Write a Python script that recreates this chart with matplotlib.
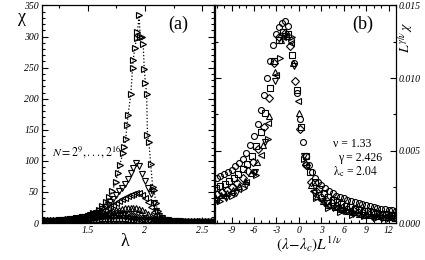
import numpy as np
import matplotlib.pyplot as plt
from matplotlib.ticker import MultipleLocator

plt.rcParams['font.family'] = ['Liberation Serif', 'DejaVu Serif']
plt.rcParams['mathtext.fontset'] = 'stix'

# ---- panel (a): chi vs lambda ----
# lambda grid of the smaller systems (1.10 ... 2.60, step 0.025)
lam = np.round(np.arange(1.10, 2.6001, 0.025), 3)

chi_o = [2.0, 2.1, 2.2, 2.3, 2.4, 2.5, 2.6, 2.7, 2.85, 3.0,
         3.1, 3.25, 3.4, 3.5, 3.65, 3.8, 3.9, 4.0, 4.1, 4.2,
         4.3, 4.4, 4.45, 4.5, 4.5, 4.5, 4.45, 4.4, 4.3, 4.2,
         4.05, 3.9, 3.75, 3.6, 3.45, 3.3, 3.15, 3.0, 2.9, 2.8,
         2.7, 2.6, 2.5, 2.42, 2.35, 2.28, 2.2, 2.14, 2.08, 2.02,
         1.96, 1.9, 1.85, 1.8, 1.75, 1.7, 1.66, 1.62, 1.58, 1.54, 1.5]
chi_s = [2.2, 2.35, 2.5, 2.65, 2.8, 3.0, 3.2, 3.4, 3.65, 3.9,
         4.15, 4.4, 4.7, 5.0, 5.3, 5.6, 5.9, 6.2, 6.5, 6.8,
         7.1, 7.4, 7.65, 7.85, 8.0, 8.1, 8.1, 8.0, 7.8, 7.5,
         7.1, 6.6, 6.1, 5.6, 5.1, 4.6, 4.2, 3.85, 3.55, 3.3,
         3.1, 2.9, 2.75, 2.6, 2.48, 2.37, 2.27, 2.18, 2.1, 2.02,
         1.95, 1.88, 1.82, 1.76, 1.71, 1.66, 1.61, 1.57, 1.53, 1.49, 1.45]
chi_d = [2.3, 2.5, 2.7, 2.9, 3.15, 3.4, 3.7, 4.0, 4.35, 4.7,
         5.1, 5.5, 6.0, 6.5, 7.0, 7.6, 8.2, 8.8, 9.5, 10.2,
         10.9, 11.6, 12.2, 12.8, 13.3, 13.7, 14.0, 14.1, 14.0, 13.6,
         13.0, 12.1, 11.0, 9.8, 8.5, 7.3, 6.2, 5.3, 4.6, 4.0,
         3.55, 3.2, 2.9, 2.7, 2.52, 2.37, 2.24, 2.13, 2.03, 1.95,
         1.88, 1.81, 1.75, 1.69, 1.64, 1.59, 1.55, 1.51, 1.47, 1.43, 1.4]
chi_up = [2.3, 2.5, 2.7, 2.9, 3.15, 3.4, 3.7, 4.0, 4.35, 4.7,
          5.1, 5.5, 6.0, 6.5, 7.1, 7.8, 8.5, 9.3, 10.2, 11.2,
          12.3, 13.5, 14.8, 16.2, 17.6, 19.0, 20.4, 21.7, 22.8, 23.7,
          24.4, 24.8, 25.0, 24.6, 23.4, 21.2, 18.0, 14.4, 11.0, 8.2,
          6.1, 4.7, 3.8, 3.2, 2.8, 2.5, 2.28, 2.12, 2.0, 1.9,
          1.82, 1.75, 1.69, 1.63, 1.58, 1.54, 1.5, 1.46, 1.42, 1.39, 1.36]
chi_left = [2.4, 2.6, 2.85, 3.1, 3.4, 3.7, 4.05, 4.45, 4.9, 5.4,
            5.9, 6.5, 7.2, 8.0, 8.9, 9.9, 11.0, 12.3, 13.8, 15.5,
            17.4, 19.5, 21.8, 24.3, 27.0, 29.8, 32.6, 35.4, 38.2, 40.9,
            43.3, 45.4, 47.0, 48.0, 47.6, 45.2, 40.4, 33.5, 25.6, 18.4,
            12.8, 8.9, 6.4, 4.9, 3.9, 3.3, 2.85, 2.55, 2.3, 2.12,
            1.98, 1.87, 1.78, 1.7, 1.63, 1.57, 1.52, 1.47, 1.43, 1.39, 1.35]
chi_down = [2.5, 2.7, 2.95, 3.2, 3.5, 3.85, 4.2, 4.6, 5.05, 5.55,
            6.1, 6.75, 7.5, 8.3, 9.2, 10.3, 11.5, 13.0, 14.8, 16.9,
            19.2, 22.0, 25.2, 29.0, 33.5, 39.0, 45.0, 51.0, 57.0, 63.5,
            71.0, 80.0, 89.0, 96.0, 91.0, 79.0, 67.0, 57.0, 46.0, 32.0,
            20.0, 12.0, 7.8, 5.6, 4.4, 3.7, 3.2, 2.85, 2.6, 2.4,
            2.22, 2.08, 1.96, 1.86, 1.77, 1.69, 1.62, 1.56, 1.51, 1.46, 1.42]

# largest system, sampled more finely around the peak
lam_big = [1.10, 1.15, 1.20, 1.25, 1.30, 1.35, 1.40, 1.45, 1.50, 1.55,
           1.60, 1.63, 1.66, 1.69, 1.715, 1.744, 1.765, 1.78, 1.809, 1.822,
           1.832, 1.844, 1.853, 1.877, 1.892, 1.897, 1.912, 1.927, 1.935, 1.95,
           1.958, 1.971, 1.985, 1.994, 2.005, 2.015, 2.022, 2.035, 2.05, 2.068,
           2.079, 2.095, 2.11, 2.13, 2.16, 2.20, 2.25, 2.30, 2.35, 2.40,
           2.45, 2.50, 2.55, 2.60]
chi_big = [2.8, 3.3, 3.9, 4.6, 5.5, 6.6, 8.0, 9.7, 12, 15.5,
           21, 27, 34, 42, 52, 66, 81, 93, 113, 122,
           135, 158, 174, 207, 249, 262, 281, 298, 308, 334,
           300, 299, 288, 248, 225, 207, 141, 131, 95, 58,
           53, 33, 20, 12, 7, 4.5, 3.5, 3.0, 2.6, 2.3,
           2.1, 1.9, 1.75, 1.6]

# ---- panel (b): scaled data, y in units of 1e-3 ----
bx_o = [-11.0, -10.5, -10.0, -9.5, -9.0, -8.5, -8.0, -7.5, -7.0, -6.5,
        -6.0, -5.5, -5.0, -4.6, -4.2, -3.8, -3.4, -3.0, -2.6, -2.2,
        -1.8, -1.4, -1.0, -0.6, -0.2, 0.2, 0.6, 1.0, 1.4, 1.8,
        2.2, 2.6, 3.0, 3.5, 4.0, 4.5, 5.0, 5.5, 6.0, 6.5,
        7.0, 7.5, 8.0, 8.5, 9.0, 9.5, 10.0, 10.5, 11.0, 11.5,
        12.0, 12.5, 13.0]
by_o = [3.1, 3.25, 3.35, 3.5, 3.65, 3.9, 4.15, 4.45, 4.85, 5.35,
        6.0, 6.8, 7.8, 8.8, 10.0, 11.2, 12.3, 13.0, 13.5, 13.8,
        13.9, 13.6, 12.6, 11.0, 9.0, 7.2, 5.6, 4.6, 4.0, 3.5,
        3.1, 2.8, 2.6, 2.4, 2.2, 2.05, 1.9, 1.8, 1.7, 1.6,
        1.52, 1.45, 1.38, 1.3, 1.24, 1.18, 1.12, 1.06, 1.0, 0.96,
        0.92, 0.88, 0.85]
bx_s = [-11.1, -10.5, -9.9, -9.3, -8.7, -8.1, -7.5, -6.9, -6.3, -5.7,
        -5.1, -4.5, -3.9, -3.3, -2.7, -2.1, -1.5, -0.9, -0.3, 0.3,
        0.9, 1.5, 2.1, 2.7, 3.3, 3.9, 4.5, 5.1, 5.7, 6.3,
        6.9, 7.5, 8.1, 8.7, 9.3, 9.9, 10.5, 11.1, 11.7, 12.3, 12.9]
by_s = [2.4, 2.55, 2.7, 2.9, 3.1, 3.35, 3.7, 4.1, 4.6, 5.3,
        6.3, 7.6, 9.3, 11.2, 12.6, 13.2, 13.0, 11.6, 9.2, 6.6,
        4.6, 3.5, 2.8, 2.35, 2.05, 1.8, 1.6, 1.45, 1.32, 1.2,
        1.1, 1.0, 0.93, 0.86, 0.8, 0.74, 0.69, 0.65, 0.61, 0.58, 0.55]
bx_d = [-11.0, -10.3, -9.6, -8.9, -8.2, -7.5, -6.8, -6.1, -5.4, -4.7,
        -4.0, -3.3, -2.6, -1.9, -1.2, -0.5, 0.2, 0.9, 1.6, 2.3,
        3.0, 3.7, 4.4, 5.1, 5.8, 6.5, 7.2, 7.9, 8.6, 9.3,
        10.0, 10.7, 11.4, 12.1, 12.8]
by_d = [2.0, 2.15, 2.3, 2.5, 2.75, 3.1, 3.6, 4.2, 5.1, 6.6,
        8.6, 11.0, 12.8, 13.1, 12.2, 9.8, 6.5, 4.0, 2.8, 2.2,
        1.8, 1.55, 1.35, 1.2, 1.07, 0.96, 0.87, 0.79, 0.72, 0.66,
        0.61, 0.56, 0.52, 0.48, 0.45]
bx_up = [-11.2, -10.4, -9.6, -8.8, -8.0, -7.2, -6.4, -5.6, -4.8, -4.0,
         -3.2, -2.4, -1.6, -0.8, 0.0, 0.8, 1.6, 2.4, 3.2, 4.0,
         4.8, 5.6, 6.4, 7.2, 8.0, 8.8, 9.6, 10.4, 11.2, 12.0, 12.8]
by_up = [1.8, 1.95, 2.1, 2.3, 2.55, 2.9, 3.45, 4.2, 5.4, 7.4,
         10.4, 12.6, 12.9, 11.0, 7.6, 4.2, 2.6, 1.9, 1.5, 1.25,
         1.08, 0.94, 0.83, 0.74, 0.66, 0.59, 0.53, 0.48, 0.44, 0.4, 0.37]
bx_left = [-11.1, -10.1, -9.1, -8.1, -7.1, -6.1, -5.1, -4.1, -3.1, -2.1,
           -1.1, -0.1, 0.9, 1.9, 2.9, 3.9, 4.9, 5.9, 6.9, 7.9,
           8.9, 9.9, 10.9, 11.9, 12.9]
by_left = [1.65, 1.85, 2.05, 2.35, 2.8, 3.5, 4.7, 6.9, 10.2, 12.8,
           12.4, 8.4, 3.9, 2.2, 1.6, 1.25, 1.02, 0.86, 0.74, 0.64,
           0.56, 0.5, 0.44, 0.4, 0.36]
bx_down = [-11.0, -9.7, -8.4, -7.1, -5.8, -4.5, -3.2, -1.9, -0.6, 0.7,
           2.0, 3.3, 4.6, 5.9, 7.2, 8.5, 9.8, 11.1, 12.4]
by_down = [1.5, 1.75, 2.1, 2.6, 3.5, 5.6, 9.8, 12.9, 10.8, 4.6,
           2.1, 1.4, 1.05, 0.82, 0.66, 0.54, 0.45, 0.38, 0.32]
bx_big = [-10.5, -8.9, -7.3, -5.7, -4.1, -2.5, -0.9, 0.7, 2.3, 3.9,
          5.5, 7.1, 8.7, 10.3, 11.9]
by_big = [1.55, 1.9, 2.4, 3.3, 5.8, 11.4, 12.8, 4.4, 1.7, 1.05,
          0.75, 0.58, 0.46, 0.38, 0.31]


def main():
    fig = plt.figure(figsize=(4.25, 2.6), dpi=100)
    axa = fig.add_axes([0.098, 0.142, 0.405, 0.837])
    axb = fig.add_axes([0.506, 0.142, 0.426, 0.837])

    mk = dict(ls="none", mfc="none", mec="black", ms=4.3, mew=0.8)

    small_a = [(chi_o, "o"), (chi_s, "s"), (chi_d, "D"), (chi_up, "^"),
               (chi_left, "<"), (chi_down, "v")]
    for chi, m in small_a:
        axa.plot(lam, chi, marker=m, **mk)
    axa.plot(lam_big, chi_big, ls=":", lw=0.9, color="black", marker=">",
             mfc="none", mec="black", ms=4.6, mew=0.85)

    small_b = [(bx_o, by_o, "o"), (bx_s, by_s, "s"), (bx_d, by_d, "D"),
               (bx_up, by_up, "^"), (bx_left, by_left, "<"),
               (bx_down, by_down, "v"), (bx_big, by_big, ">")]
    for bx, by, m in small_b:
        axb.plot(bx, np.array(by) * 1e-3, marker=m, **mk)

    # axes (a)
    axa.set_xlim(1.1, 2.6)
    axa.set_ylim(0, 350)
    axa.set_xticks([1.5, 2, 2.5])
    axa.set_xticklabels(["1.5", "2", "2.5"], fontstyle="italic")
    axa.set_yticks(range(0, 351, 50))
    axa.set_yticklabels([str(v) for v in range(0, 351, 50)], fontstyle="italic")
    axa.xaxis.set_minor_locator(MultipleLocator(0.25))
    axa.yaxis.set_minor_locator(MultipleLocator(10))

    # axes (b)
    axb.set_xlim(-11.2, 13)
    axb.set_ylim(0, 0.015)
    xt = [-9, -6, -3, 0, 3, 6, 9, 12]
    axb.set_xticks(xt)
    axb.set_xticklabels([str(v) for v in xt], fontstyle="italic")
    yt = [0, 0.005, 0.010, 0.015]
    axb.set_yticks(yt)
    axb.set_yticklabels([f"{v:.3f}" for v in yt], fontstyle="italic")
    axb.xaxis.set_minor_locator(MultipleLocator(1))
    axb.yaxis.set_minor_locator(MultipleLocator(0.0025))

    for ax in (axa, axb):
        ax.tick_params(which="both", direction="in", top=True, right=True,
                       labelsize=7, pad=2, width=0.8)
        ax.tick_params(which="major", length=4)
        ax.tick_params(which="minor", length=2)
        for s in ax.spines.values():
            s.set_linewidth(0.9)
    axb.tick_params(labelleft=False, labelright=True)

    W, H = 425.0, 260.0
    fig.text(178 / W, 1 - 24 / H, "(a)", ha="center", va="center", fontsize=13)
    fig.text(363 / W, 1 - 24 / H, "(b)", ha="center", va="center", fontsize=13)
    fig.text(22 / W, 1 - 17 / H, "χ", ha="center", va="center", fontsize=13)
    fig.text(125 / W, 1 - 241 / H, "λ", ha="center", va="center", fontsize=13)
    fig.text(52 / W, 1 - 152 / H, r"$\mathit{N = 2^{9},...,2^{16}}$",
             ha="left", va="center", fontsize=8.5)
    fig.text(333 / W, 1 - 144 / H, "ν = 1.33", ha="left", va="center",
             fontsize=8.5)
    fig.text(338 / W, 1 - 158 / H, "γ = 2.426", ha="left", va="center",
             fontsize=8.5)
    fig.text(333 / W, 1 - 172 / H, r"$\mathrm{\lambda_{c}}$ = $\mathit{2.04}$",
             ha="left", va="center", fontsize=8.5)
    fig.text(309 / W, 1 - 244 / H, r"$(\lambda\!-\!\lambda_{c})L^{1/\nu}$",
             ha="center", va="center", fontsize=11)
    fig.text(406 / W, 1 - 37 / H, r"$L^{\gamma/\nu}\,\chi$", rotation=90,
             ha="center", va="center", fontsize=10)

    fig.savefig("out.png", dpi=100)


if __name__ == "__main__":
    main()
